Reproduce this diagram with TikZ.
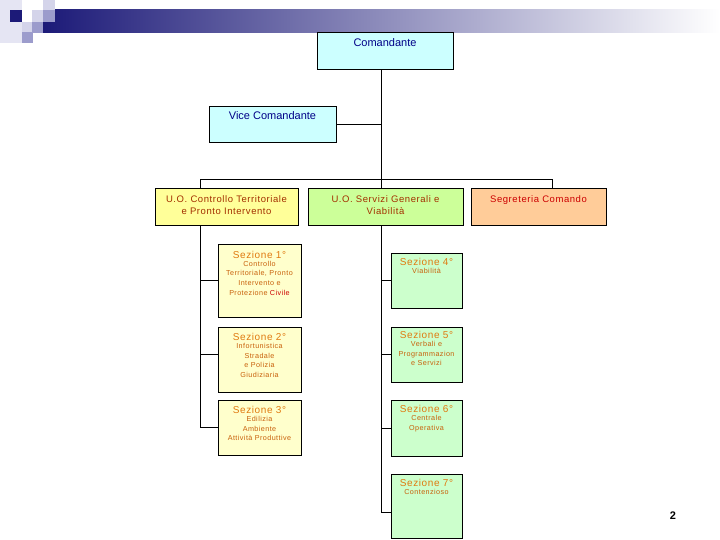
\documentclass[tikz,border=0pt]{standalone}
\usepackage{fontspec}
\setmainfont{Liberation Sans}
\newfontfamily\spaced[LetterSpace=6]{Liberation Sans}
\usetikzlibrary{positioning}
\definecolor{navy}{HTML}{1C1A78}
\definecolor{lilac}{HTML}{9C9CCC}
\definecolor{mist}{HTML}{D4D4EA}
\definecolor{cyanbox}{HTML}{CCFFFF}
\definecolor{yelbox}{HTML}{FFFF99}
\definecolor{limebox}{HTML}{CCFF99}
\definecolor{peachbox}{HTML}{FFCC99}
\definecolor{creambox}{HTML}{FFFFCC}
\definecolor{mintbox}{HTML}{CCFFCC}
\definecolor{headtxt}{HTML}{000088}
\definecolor{uotxt}{HTML}{A33000}
\definecolor{segtxt}{HTML}{CC0000}
\definecolor{sezhead}{HTML}{E07A10}
\definecolor{seztxt}{HTML}{C8600A}
\tikzset{wire/.style={draw=black,line width=0.9pt},
  box/.style={draw=black,line width=0.9pt,inner sep=0pt},
  head/.style={box,fill=cyanbox},
  uoa/.style={box,fill=yelbox},
  uob/.style={box,fill=limebox},
  segr/.style={box,fill=peachbox},
  seza/.style={box,fill=creambox},
  sezb/.style={box,fill=mintbox},
  headt/.style={anchor=north,inner sep=1pt,text=headtxt,font=\fontsize{11}{13}\selectfont},
  uot/.style={anchor=north,align=center,inner sep=1pt,text=uotxt,font=\fontsize{9.5}{12.8}\selectfont\spaced},
  sezt/.style={anchor=north,inner sep=1pt,text=sezhead,font=\fontsize{10}{12}\selectfont\spaced},
  sezs/.style={align=center,inner sep=1pt,text=seztxt,font=\fontsize{7.2}{9.6}\selectfont\spaced}}

\begin{document}
\begin{tikzpicture}[x=1pt,y=-1pt]
  \useasboundingbox (0,0) rectangle (720,540);
  \fill[mist!60] (0,0) rectangle (22,43);
  \shade[left color=navy,right color=white] (43,10) rectangle (720,33);
  \fill[navy] (10,10) rectangle (22,22);
  \fill[mist] (22,22) rectangle (32,32);
  \fill[mist] (32,10) rectangle (43,22);
  \fill[mist] (43,0) rectangle (55,10);
  \fill[lilac] (43,10) rectangle (55,22);
  \fill[lilac] (32,22) rectangle (43,33);
  \fill[lilac] (22,32) rectangle (33,43);

  \node[head,minimum width=136pt,minimum height=37pt] (com) at (385,50.5) {};
  \node[headt] (comt) at ([yshift=-5.5pt]com.north) {Comandante};
  \node[head,minimum width=127pt,minimum height=36pt] (vice) at (272.5,124) {};
  \node[headt] (vicet) at ([yshift=-5pt]vice.north) {Vice Comandante};

  \node[uoa,minimum width=143pt,minimum height=37pt] (uoc) at (226.5,206.5) {};
  \node[uot] (uoct) at ([yshift=-6.5pt]uoc.north) {U.O. Controllo Territoriale\\e Pronto Intervento};
  \node[uob,minimum width=155pt,minimum height=37pt] (uos) at (385.5,206.5) {};
  \node[uot] (uost) at ([yshift=-6.5pt]uos.north) {U.O. Servizi Generali e\\Viabilità};
  \node[segr,minimum width=135pt,minimum height=37pt] (seg) at (538.5,206.5) {};
  \node[uot,text=segtxt] (segt) at ([yshift=-6.5pt]seg.north) {Segreteria Comando};

  \node[seza,minimum width=83pt,minimum height=73pt] (s1) at (259.5,280.5) {};
  \node[sezt] (s1t) at ([yshift=-6.5pt]s1.north) {Sezione 1°};
  \node[sezs,below=0pt of s1t] (s1s) {Controllo\\Territoriale, Pronto\\Intervento e\\Protezione \textcolor{segtxt}{Civile}};
  \node[seza,minimum width=83pt,minimum height=65pt] (s2) at (259.5,359.5) {};
  \node[sezt] (s2t) at ([yshift=-6pt]s2.north) {Sezione 2°};
  \node[sezs,below=0pt of s2t] (s2s) {Infortunistica\\Stradale\\e Polizia\\Giudiziaria};
  \node[seza,minimum width=83pt,minimum height=55pt] (s3) at (259.5,427.5) {};
  \node[sezt] (s3t) at ([yshift=-6pt]s3.north) {Sezione 3°};
  \node[sezs,below=0pt of s3t] (s3s) {Edilizia\\Ambiente\\Attività Produttive};

  \node[sezb,minimum width=71pt,minimum height=55pt] (s4) at (426.5,280.5) {};
  \node[sezt] (s4t) at ([yshift=-5pt]s4.north) {Sezione 4°};
  \node[sezs,below=0pt of s4t] (s4s) {Viabilità};
  \node[sezb,minimum width=71pt,minimum height=55pt] (s5) at (426.5,354.5) {};
  \node[sezt] (s5t) at ([yshift=-4pt]s5.north) {Sezione 5°};
  \node[sezs,below=0pt of s5t] (s5s) {Verbali e\\Programmazion\\e Servizi};
  \node[sezb,minimum width=71pt,minimum height=56pt] (s6) at (426.5,428) {};
  \node[sezt] (s6t) at ([yshift=-5pt]s6.north) {Sezione 6°};
  \node[sezs,below=0pt of s6t] (s6s) {Centrale\\Operativa};
  \node[sezb,minimum width=71pt,minimum height=64pt] (s7) at (426.5,506) {};
  \node[sezt] (s7t) at ([yshift=-5pt]s7.north) {Sezione 7°};
  \node[sezs,below=0pt of s7t] (s7s) {Contenzioso};

  \coordinate (jc) at (381,179);
  \coordinate (lb) at (200,179);
  \coordinate (rb) at (552,179);
  \draw[wire] (com.south -| jc) -- (jc);
  \draw[wire] (vice.east) -- (vice.east -| jc);
  \draw[wire] (uoc.north -| lb) -- (lb) -- (rb) -- (seg.north -| rb);
  \draw[wire] (jc) -- (uos.north -| jc);
  \draw[wire] (uoc.south -| lb) |- (s3.west);
  \draw[wire] (lb |- s1.west) -- (s1.west);
  \draw[wire] (lb |- 0,354) -- (s2.west |- 0,354);
  \draw[wire] (uos.south -| jc) |- (s7.west |- 0,512);
  \draw[wire] (jc |- s4.west) -- (s4.west);
  \draw[wire] (jc |- s5.west) -- (s5.west);
  \draw[wire] (jc |- s6.west) -- (s6.west);

  \node[font=\bfseries\fontsize{11}{13}\selectfont] (pg) at (673,516) {2};
\end{tikzpicture}
\end{document}
